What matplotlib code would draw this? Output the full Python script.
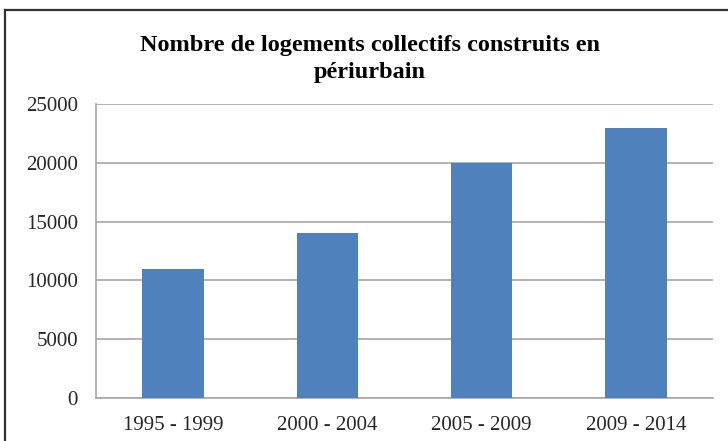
import numpy as np
import matplotlib
matplotlib.use("Agg")
import matplotlib.pyplot as plt
from matplotlib.lines import Line2D

periodes = ["1995 - 1999", "2000 - 2004", "2005 - 2009", "2009 - 2014"]
logements = [11000, 14000, 20000, 23000]
graduations = [0, 5000, 10000, 15000, 20000, 25000]

plt.rcParams['font.family'] = ['Liberation Serif', 'DejaVu Serif']

W, H = 728, 441
fig = plt.figure(figsize=(W / 100, H / 100), dpi=100)
fig.patch.set_facecolor("white")

# cadre du graphique (coupe a droite et en bas)
fig.add_artist(Line2D([5 / W, 5 / W], [0, 1 - 10 / H], transform=fig.transFigure,
                      color="#333333", lw=1.6))
fig.add_artist(Line2D([5 / W, 1], [1 - 10 / H, 1 - 10 / H], transform=fig.transFigure,
                      color="#333333", lw=1.6))

ax = fig.add_axes([96 / W, 1 - 398 / H, (713 - 96) / W, (398 - 104) / H])
x = np.arange(len(periodes))
ax.bar(x, logements, width=0.4, color="#4F81BD", zorder=3)

ax.set_xlim(-0.5, len(periodes) - 0.5)
ax.set_ylim(0, 25000)
ax.set_yticks(graduations)
ax.set_yticklabels([str(v) for v in graduations], fontsize=15, color="#262626")
ax.set_xticks(x)
ax.set_xticklabels(periodes, fontsize=15, color="#262626")
ax.yaxis.grid(True, color="#A6A6A6", lw=1.2, zorder=0)
ax.tick_params(axis="both", length=0)
ax.tick_params(axis="x", pad=13)
ax.tick_params(axis="y", pad=13)
for s in ["top", "right"]:
    ax.spines[s].set_visible(False)
ax.spines["left"].set_color("#A6A6A6")
ax.spines["bottom"].set_color("#A6A6A6")
ax.spines["left"].set_linewidth(1.2)
ax.spines["bottom"].set_linewidth(1.2)

fig.text(370 / W, 1 - 59 / H, "Nombre de logements collectifs construits en\npériurbain",
         ha="center", va="center", fontsize=17.5, fontweight="bold", linespacing=1.4)

fig.savefig("out.png", dpi=100)
